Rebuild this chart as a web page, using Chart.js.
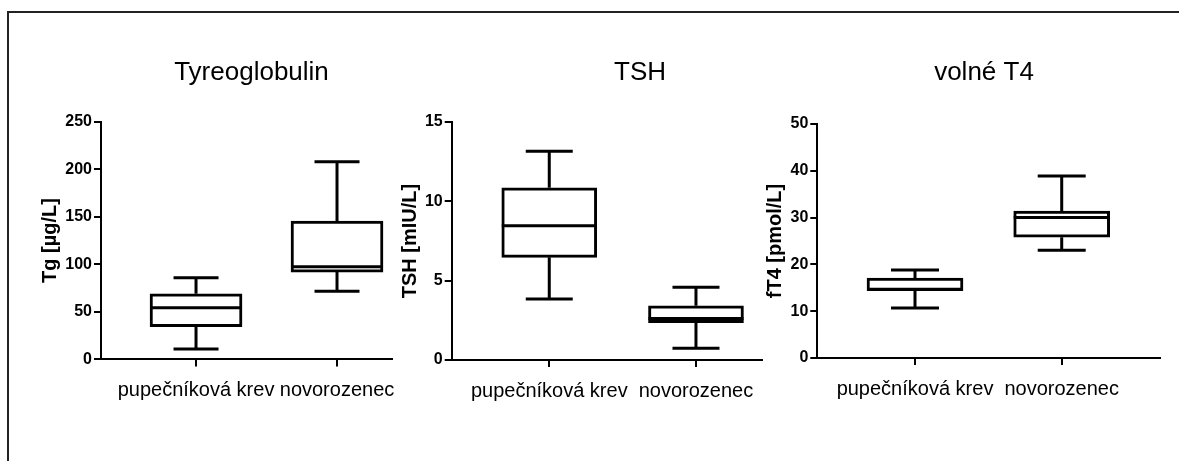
<!DOCTYPE html>
<html><head><meta charset="utf-8">
<script src="https://cdn.jsdelivr.net/npm/chart.js@4.4.1/dist/chart.umd.min.js"></script>
<style>
html,body{margin:0;padding:0;background:#fff;overflow:hidden;width:1179px;height:461px;position:relative}
#frame{position:absolute;left:7px;top:11px;width:1200px;height:500px;border-top:2px solid #222;border-left:2px solid #222}
canvas{position:absolute}
</style></head><body>
<div id="frame"></div>
<canvas id="c1"></canvas><canvas id="c2"></canvas><canvas id="c3"></canvas>
<script>
// ---- data ----
const categories = ['pupečníková krev', 'novorozenec'];

const tgMin    = [11.0, 71.7];
const tgQ1     = [34.5, 91.8];
const tgMedian = [54.2, 97.5];
const tgQ3     = [69.0, 145.6];
const tgMax    = [86.0, 207.8];
const tgTicks  = [0, 50, 100, 150, 200, 250];

const tshMin    = [3.84, 0.74];
const tshQ1     = [6.47, 2.36];
const tshMedian = [8.46, 2.62];
const tshQ3     = [10.85, 3.42];
const tshMax    = [13.15, 4.58];
const tshTicks  = [0, 5, 10, 15];

const ft4Min    = [10.7, 23.0];
const ft4Q1     = [14.4, 25.8];
const ft4Median = [14.7, 30.0];
const ft4Q3     = [17.1, 31.4];
const ft4Max    = [18.8, 38.9];
const ft4Ticks  = [0, 10, 20, 30, 40, 50];

Chart.defaults.font.family = "'Liberation Sans', Arial, sans-serif";
Chart.defaults.color = '#000';

const whiskerPlugin = {
  id: 'whiskers',
  afterDatasetsDraw(chart, args, opts) {
    const ctx = chart.ctx, x = chart.scales.x, y = chart.scales.y;
    const meta = chart.getDatasetMeta(0);
    ctx.save();
    ctx.strokeStyle = '#000';
    ctx.lineWidth = 3;
    ctx.lineCap = 'butt';
    opts.min.forEach((mn, i) => {
      const cx = x.getPixelForValue(i);
      const bar = meta.data[i];
      const half = bar.width / 2;
      const yMin = y.getPixelForValue(mn), yMax = y.getPixelForValue(opts.max[i]);
      const yQ1 = y.getPixelForValue(opts.q1[i]), yQ3 = y.getPixelForValue(opts.q3[i]);
      const yMed = y.getPixelForValue(opts.med[i]);
      ctx.beginPath();
      ctx.moveTo(cx, yQ3); ctx.lineTo(cx, yMax);
      ctx.moveTo(cx, yQ1); ctx.lineTo(cx, yMin);
      ctx.moveTo(cx - opts.cap / 2, yMax); ctx.lineTo(cx + opts.cap / 2, yMax);
      ctx.moveTo(cx - opts.cap / 2, yMin); ctx.lineTo(cx + opts.cap / 2, yMin);
      ctx.moveTo(cx - half, yMed); ctx.lineTo(cx + half, yMed);
      ctx.stroke();
    });
    ctx.restore();
  }
};

function makePanel(id, g, s) {
  const el = document.getElementById(id);
  el.width = g.w; el.height = g.h;
  el.style.left = g.left + 'px'; el.style.top = g.top + 'px';
  el.style.width = g.w + 'px'; el.style.height = g.h + 'px';
  return new Chart(el, {
    type: 'bar',
    data: {
      datasets: [{
        data: categories.map((c, i) => ({x: i, y: [s.q1[i], s.q3[i]]})),
        backgroundColor: '#fff', borderColor: '#000', borderWidth: 3,
        borderSkipped: false, barThickness: g.boxW
      }]
    },
    options: {
      responsive: false, animation: false, devicePixelRatio: 1,
      layout: {padding: g.pad},
      plugins: {
        legend: {display: false}, tooltip: {enabled: false},
        title: {display: true, text: s.title, color: '#000',
                font: {size: 26, weight: 'normal'},
                padding: {top: g.tpT, bottom: g.tpB}},
        whiskers: {min: s.min, q1: s.q1, med: s.med, q3: s.q3, max: s.max, cap: g.cap}
      },
      scales: {
        x: {
          type: 'linear', position: 'bottom', min: g.xMin, max: g.xMax, bounds: 'data', offset: false,
          grid: {display: true, offset: false, drawOnChartArea: false, drawTicks: true, tickLength: 7, color: '#000', lineWidth: 2},
          border: {display: true, color: '#000', width: 2},
          ticks: {autoSkip: false, maxRotation: 0, padding: 12, color: '#000', font: {size: 20},
                  callback: (v) => categories[v]},
          afterBuildTicks: sc => { sc.ticks = categories.map((c, i) => ({value: i})); },
          afterFit: sc => { sc.paddingLeft = 0; sc.paddingRight = 0; }
        },
        y: {
          type: 'linear', position: 'left', min: s.yTicks[0], max: s.yTicks[s.yTicks.length - 1],
          grid: {drawOnChartArea: false, drawTicks: true, tickLength: 7, color: '#000', lineWidth: 2},
          border: {display: true, color: '#000', width: 2},
          ticks: {padding: 2, color: '#000', font: {size: 16, weight: 'bold'}},
          afterBuildTicks: sc => { sc.ticks = s.yTicks.map(v => ({value: v})); },
          title: {display: true, text: s.yTitle, color: '#000', font: {size: 20, weight: 'bold'}, padding: 0},
          afterFit: sc => { sc.width = g.yW; sc.paddingTop = 0; sc.paddingBottom = 0; }
        },
        pad: {
          type: 'linear', position: 'right', display: true,
          grid: {display: false, drawTicks: false}, border: {display: false}, ticks: {display: false},
          afterFit: sc => { sc.width = g.rW; }
        }
      }
    },
    plugins: [whiskerPlugin]
  });
}

makePanel('c1',
  {left: 30, top: 40, w: 440, h: 380, pad: {left: 8, right: 5, top: 0, bottom: 5.6},
   yW: 63, rW: 73, tpT: 17.4, tpB: 33.1, xMin: -0.674, xMax: 1.390, boxW: 92, cap: 45},
  {title: 'Tyreoglobulin', yTitle: 'Tg [µg/L]', yTicks: tgTicks,
   min: tgMin, q1: tgQ1, med: tgMedian, q3: tgQ3, max: tgMax});

makePanel('c2',
  {left: 390, top: 40, w: 497, h: 380, pad: {left: 8, right: 5, top: 0, bottom: 5},
   yW: 53.7, rW: 120, tpT: 17.4, tpB: 33.4, xMin: -0.665, xMax: 1.450, boxW: 95, cap: 47},
  {title: 'TSH', yTitle: 'TSH [mIU/L]', yTicks: tshTicks,
   min: tshMin, q1: tshQ1, med: tshMedian, q3: tshQ3, max: tshMax});

makePanel('c3',
  {left: 755, top: 40, w: 455, h: 380, pad: {left: 8, right: 5, top: 0, bottom: 7},
   yW: 54.3, rW: 45, tpT: 17.4, tpB: 35.4, xMin: -0.666, xMax: 1.670, boxW: 96, cap: 48},
  {title: 'volné T4', yTitle: 'fT4 [pmol/L]', yTicks: ft4Ticks,
   min: ft4Min, q1: ft4Q1, med: ft4Median, q3: ft4Q3, max: ft4Max});
</script>
</body></html>
